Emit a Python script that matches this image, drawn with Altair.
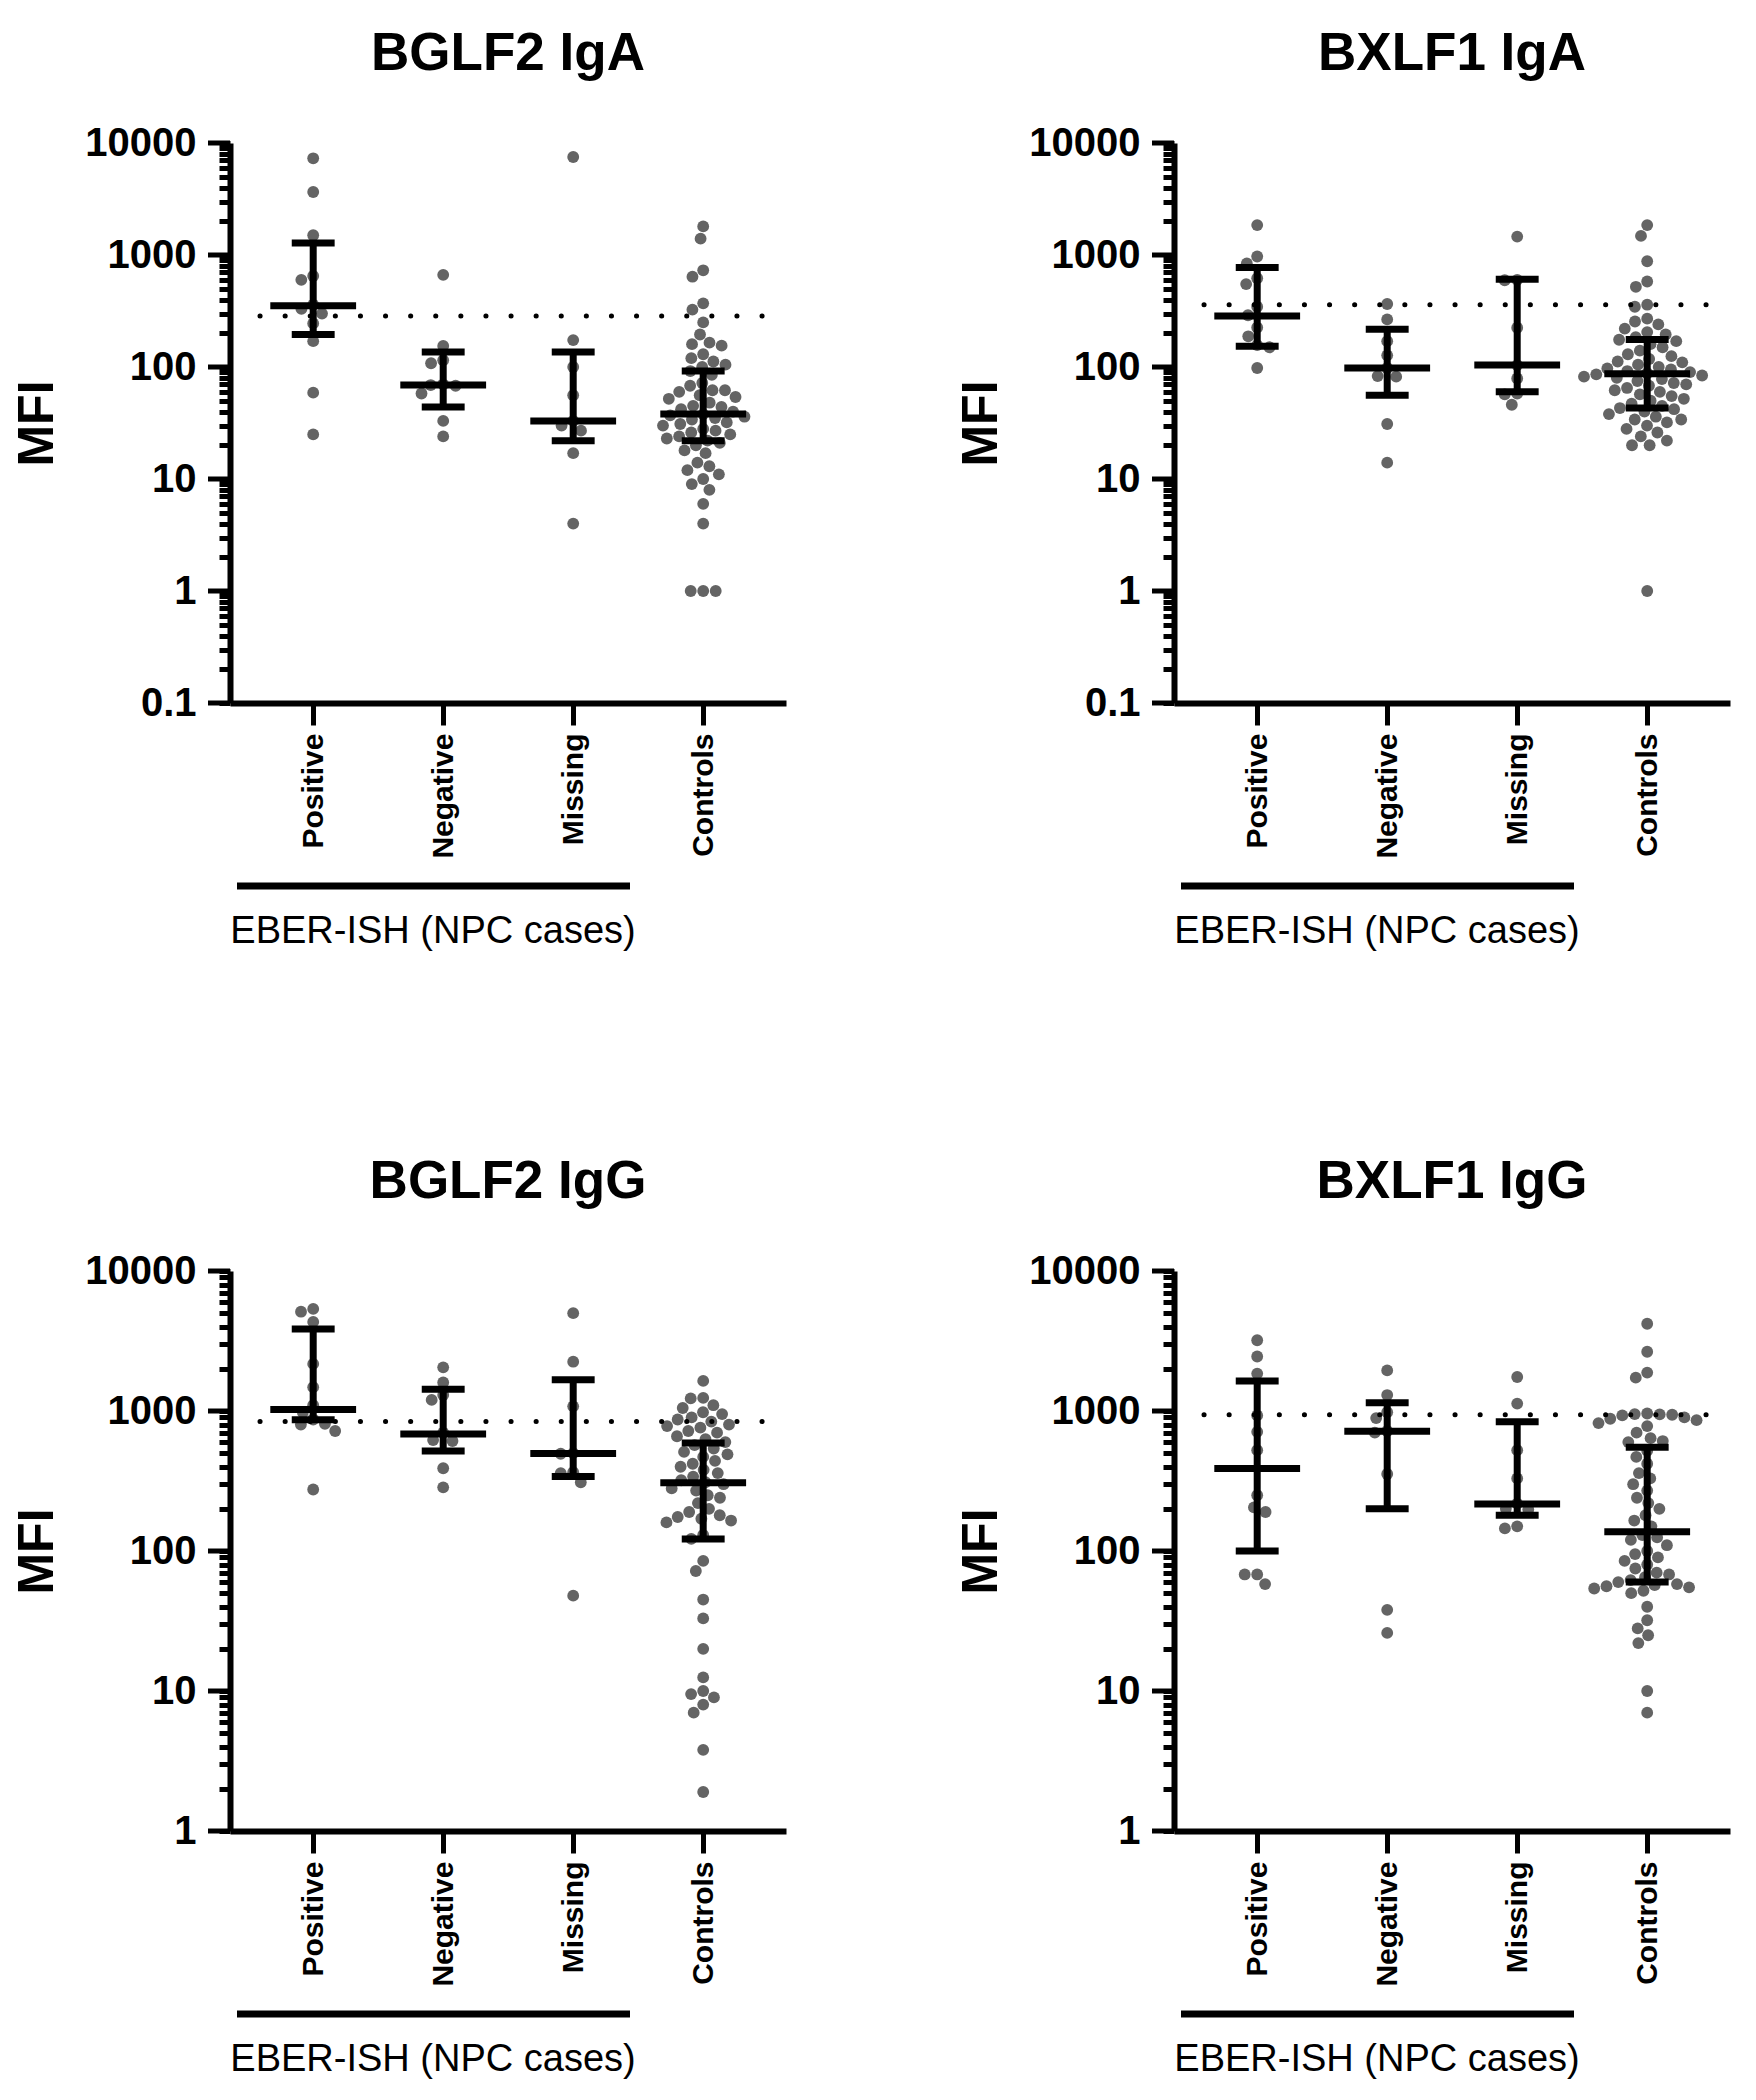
import math
import altair as alt
import pandas as pd

GROUPS = ["Positive", "Negative", "Missing", "Controls"]
GROUP_LABEL = "EBER-ISH (NPC cases)"
Y_TOP = 10000

# ---------------- BGLF2 IgA ----------------
bglf2_iga_title = "BGLF2 IgA"
bglf2_iga_ymin = 0.1
bglf2_iga_positive = [7300, 3650, 1500, 650, 600, 360, 330, 300, 245, 170, 59, 25]
bglf2_iga_negative = [665, 154, 115, 108, 70, 69, 68, 58, 33, 24]
bglf2_iga_missing = [7500, 174, 100, 56, 33, 30, 27, 17, 4]
bglf2_iga_controls = [1800, 1400, 730, 640, 370, 325, 250, 195, 165, 160, 155, 130, 120,
                      112, 105, 100, 92, 85, 72, 68, 62, 62, 60, 56, 54, 52, 48, 45, 44,
                      42, 40, 38, 37, 36, 35, 34, 32, 31, 30, 28, 27, 26, 25, 24, 23, 22,
                      21, 20, 18, 17, 14, 13, 12, 11, 10, 9, 8, 6, 4, 1, 1, 1]
bglf2_iga_median = [353, 69, 33, 38]
bglf2_iga_q1 = [195, 44, 22, 22]
bglf2_iga_q3 = [1280, 136, 136, 92]
bglf2_iga_cutoff = 285

# ---------------- BXLF1 IgA ----------------
bxlf1_iga_title = "BXLF1 IgA"
bxlf1_iga_ymin = 0.1
bxlf1_iga_positive = [1850, 970, 840, 620, 550, 345, 290, 225, 188, 157, 150, 98]
bxlf1_iga_negative = [365, 266, 170, 127, 98, 83, 82, 31, 14]
bxlf1_iga_missing = [1460, 600, 595, 224, 104, 79, 58, 57, 46]
bxlf1_iga_controls = [1850, 1480, 880, 580, 520, 360, 345, 270, 255, 240, 220, 205, 195,
                      185, 175, 170, 160, 150, 140, 130, 125, 118, 112, 110, 105, 100, 97,
                      95, 92, 90, 88, 86, 84, 82, 80, 78, 75, 72, 70, 68, 65, 62, 60, 57,
                      55, 52, 50, 47, 45, 43, 42, 40, 38, 36, 34, 34, 32, 30, 28, 26, 24,
                      22, 20, 20, 1]
bxlf1_iga_median = [286, 98, 104, 87]
bxlf1_iga_q1 = [153, 56, 60, 43]
bxlf1_iga_q3 = [775, 217, 608, 176]
bxlf1_iga_cutoff = 359

# ---------------- BGLF2 IgG ----------------
bglf2_igg_title = "BGLF2 IgG"
bglf2_igg_ymin = 1
bglf2_igg_positive = [5360, 5120, 4330, 2170, 1480, 1100, 980, 870, 810, 800, 720, 275]
bglf2_igg_negative = [2050, 1600, 1300, 1200, 700, 620, 610, 390, 285]
bglf2_igg_missing = [5000, 2250, 1080, 500, 495, 365, 360, 310, 48]
bglf2_igg_controls = [1640, 1240, 1230, 1100, 1050, 980, 950, 900, 870, 840, 800, 780, 760,
                      720, 700, 660, 630, 600, 570, 540, 510, 490, 470, 440, 420, 400, 380,
                      360, 340, 320, 310, 300, 280, 270, 250, 240, 220, 200, 190, 180, 175,
                      170, 165, 160, 130, 122, 85, 72, 45, 33, 20, 12.5, 10, 9.5, 9, 8, 7,
                      3.8, 1.9]
bglf2_igg_median = [1026, 686, 498, 307]
bglf2_igg_q1 = [867, 518, 340, 122]
bglf2_igg_q3 = [3860, 1432, 1671, 591]
bglf2_igg_cutoff = 840

# ---------------- BXLF1 IgG ----------------
bxlf1_igg_title = "BXLF1 IgG"
bxlf1_igg_ymin = 1
bxlf1_igg_positive = [3200, 2450, 1850, 930, 710, 525, 250, 205, 190, 68, 68, 58]
bxlf1_igg_negative = [1950, 1300, 980, 890, 720, 700, 355, 38, 26]
bxlf1_igg_missing = [1750, 1130, 525, 330, 218, 200, 198, 150, 145]
bxlf1_igg_controls = [4200, 2650, 1880, 1730, 960, 950, 945, 940, 930, 900, 880, 860, 820,
                      780, 700, 640, 610, 600, 520, 470, 420, 360, 330, 300, 270, 240, 220,
                      200, 180, 165, 150, 130, 125, 120, 110, 100, 95, 90, 85, 80, 75, 70,
                      68, 65, 62, 60, 58, 57, 56, 55, 54, 52, 50, 40, 32, 28, 25, 22, 10, 7]
bxlf1_igg_median = [388, 718, 217, 137]
bxlf1_igg_q1 = [100, 200, 180, 60]
bxlf1_igg_q3 = [1641, 1143, 839, 550]
bxlf1_igg_cutoff = 940

# ---------------- layout / style ----------------
W, H = 556, 560
STEP = 130.0
X_LO = 0.36
X_HI = X_LO + W / STEP
DOT = 12.5
FONT = "Liberation Sans"
POINT_COLOR = "#646464"
MED_HALF = 0.33
CAP_HALF = 0.165
BAR_W = 7


def swarm_offsets(values, ymin):
    lo, hi = math.log10(ymin), math.log10(Y_TOP)
    ys = [H * (hi - math.log10(v)) / (hi - lo) for v in values]
    order = sorted(range(len(values)), key=lambda i: ys[i])
    placed = []
    out = [0.0] * len(values)
    for i in order:
        y = ys[i]
        forb = []
        for px_, py_ in placed:
            dy = abs(py_ - y)
            if dy < DOT:
                dx = math.sqrt(DOT * DOT - dy * dy)
                forb.append((px_ - dx, px_ + dx))
        cands = [0.0] + [a for a, b in forb] + [b for a, b in forb]
        cands.sort(key=lambda c: (round(abs(c), 6), c))
        x = 0.0
        for c in cands:
            if all(not (a + 1e-6 < c < b - 1e-6) for a, b in forb):
                x = c
                break
        placed.append((x, y))
        out[i] = x
    return out


def panel(title, series, med, q1, q3, cutoff, ymin):
    rows = []
    for gi, vals in enumerate(series):
        offs = swarm_offsets(vals, ymin)
        for v, o in zip(vals, offs):
            rows.append({"group": GROUPS[gi], "xpos": gi + 1 + o / STEP, "value": v})
    pts = pd.DataFrame(rows)
    summ = pd.DataFrame({"group": GROUPS, "idx": [1, 2, 3, 4],
                         "med": med, "q1": q1, "q3": q3})
    e0 = int(round(math.log10(ymin)))
    decades = [10.0 ** e for e in range(e0, 5)]
    minors = [k * d for d in decades[:-1] for k in range(2, 10)]

    label_list = "[''," + ",".join("'%s'" % g for g in GROUPS) + "]"
    xscale = alt.Scale(domain=[X_LO, X_HI], nice=False, zero=False)
    xaxis = alt.Axis(values=[1, 2, 3, 4], labelExpr=label_list + "[datum.value]",
                     labelAngle=270, labelAlign="right", labelBaseline="middle",
                     labelFont=FONT, labelFontSize=30, labelFontWeight="bold",
                     labelColor="black", labelPadding=8, labelFlush=False,
                     labelOverlap=False, tickSize=22, tickWidth=5, tickColor="black",
                     domainColor="black", domainWidth=6, grid=False, title=None)
    yscale = alt.Scale(type="log", domain=[ymin, Y_TOP], nice=False)
    yaxis = alt.Axis(values=decades + minors,
                     labelExpr="abs(log(datum.value)/LN10 - round(log(datum.value)/LN10)) < 0.001 ? format(datum.value, '~g') : ''",
                     labelFont=FONT, labelFontSize=40, labelFontWeight="bold",
                     labelColor="black", labelPadding=23, labelFlush=False,
                     labelOverlap=False, tickSize=11, tickWidth=5, tickColor="black",
                     domainColor="black", domainWidth=6, grid=False,
                     title="MFI", titleFont="Liberation Sans Narrow, Liberation Sans",
                     titleFontSize=50, titleFontWeight="bold", titleColor="black",
                     titlePadding=22)

    def X(f):
        return alt.X(f, scale=xscale, axis=xaxis)

    def Y(f):
        return alt.Y(f, scale=yscale, axis=yaxis)

    points = alt.Chart(pts).mark_circle(size=140, color=POINT_COLOR, opacity=1).encode(
        x=X("xpos:Q"), y=Y("value:Q"))

    cut = alt.Chart(pd.DataFrame({"cut": [cutoff]})).mark_rule(
        color="black", strokeWidth=5, strokeDash=[0.1, 25], strokeCap="round").encode(
        x=alt.value(30), x2=alt.value(W), y=Y("cut:Q"))

    base = alt.Chart(summ)
    vline = base.mark_rule(color="black", strokeWidth=BAR_W).encode(
        x=X("idx:Q"), y=Y("q1:Q"), y2="q3:Q")
    medbar = base.transform_calculate(
        xl="datum.idx - %f" % MED_HALF, xr="datum.idx + %f" % MED_HALF
    ).mark_rule(color="black", strokeWidth=BAR_W).encode(
        x=X("xl:Q"), x2="xr:Q", y=Y("med:Q"))
    caps = base.transform_fold(["q1", "q3"], as_=["which", "qv"]).transform_calculate(
        xl="datum.idx - %f" % CAP_HALF, xr="datum.idx + %f" % CAP_HALF
    ).mark_rule(color="black", strokeWidth=BAR_W).encode(
        x=X("xl:Q"), x2="xr:Q", y=Y("qv:Q"))

    major = alt.Chart(pd.DataFrame({"t": decades})).mark_rule(
        color="black", strokeWidth=5).encode(
        x=alt.value(-22), x2=alt.value(0), y=Y("t:Q"))

    ann = pd.DataFrame({"label": [GROUP_LABEL]})
    bracket = alt.Chart(ann).mark_rule(color="black", strokeWidth=7).encode(
        x=alt.value(7), x2=alt.value(400), y=alt.value(H + 183))
    gtext = alt.Chart(ann).mark_text(font=FONT, fontSize=38, color="black",
                                     align="center", baseline="alphabetic").encode(
        text="label:N", x=alt.value(203), y=alt.value(H + 240))

    return alt.layer(points, cut, vline, medbar, caps, major, bracket, gtext).properties(
        width=W, height=H,
        title=alt.TitleParams(text=title, font=FONT, fontSize=53, fontWeight="bold",
                              color="black", anchor="middle", frame="group", offset=42))


p1 = panel(bglf2_iga_title,
           [bglf2_iga_positive, bglf2_iga_negative, bglf2_iga_missing, bglf2_iga_controls],
           bglf2_iga_median, bglf2_iga_q1, bglf2_iga_q3, bglf2_iga_cutoff, bglf2_iga_ymin)
p2 = panel(bxlf1_iga_title,
           [bxlf1_iga_positive, bxlf1_iga_negative, bxlf1_iga_missing, bxlf1_iga_controls],
           bxlf1_iga_median, bxlf1_iga_q1, bxlf1_iga_q3, bxlf1_iga_cutoff, bxlf1_iga_ymin)
p3 = panel(bglf2_igg_title,
           [bglf2_igg_positive, bglf2_igg_negative, bglf2_igg_missing, bglf2_igg_controls],
           bglf2_igg_median, bglf2_igg_q1, bglf2_igg_q3, bglf2_igg_cutoff, bglf2_igg_ymin)
p4 = panel(bxlf1_igg_title,
           [bxlf1_igg_positive, bxlf1_igg_negative, bxlf1_igg_missing, bxlf1_igg_controls],
           bxlf1_igg_median, bxlf1_igg_q1, bxlf1_igg_q3, bxlf1_igg_cutoff, bxlf1_igg_ymin)

row1 = alt.hconcat(p1, p2, spacing=167)
row2 = alt.hconcat(p3, p4, spacing=167)
chart = alt.vconcat(row1, row2, spacing=205).properties(
    padding={"left": 4, "top": 20, "right": 0, "bottom": 0},
    background="white",
).configure_view(stroke=None)

chart.save("out.html", embed_options={"renderer": "svg", "actions": False})
